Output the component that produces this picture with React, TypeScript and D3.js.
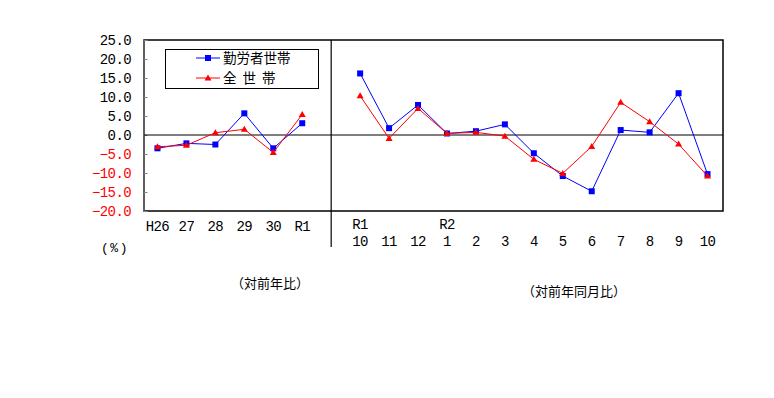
import React, { useEffect, useRef } from 'react';
import * as d3 from 'd3';

// annual (対前年比)
const annualLabels = ["H26", "27", "28", "29", "30", "R1"];
const workerAnnual = [-3.5, -2.2, -2.5, 5.7, -3.5, 3.1];
const allAnnual = [-3.1, -2.7, 0.6, 1.5, -4.6, 5.4];

// monthly (対前年同月比)
const monthEraLabels = ["R1", "", "", "R2", "", "", "", "", "", "", "", "", ""];
const monthLabels = ["10", "11", "12", "1", "2", "3", "4", "5", "6", "7", "8", "9", "10"];
const workerMonthly = [16.2, 1.8, 7.9, 0.4, 1.0, 2.8, -4.8, -10.8, -14.8, 1.3, 0.7, 11.0, -10.3];
const allMonthly = [10.3, -0.9, 7.0, 0.4, 0.7, -0.3, -6.4, -10.1, -3.0, 8.6, 3.5, -2.4, -10.8];

const yTicks = [-20, -15, -10, -5, 0, 5, 10, 15, 20, 25];
const seriesNames = ["勤労者世帯", "全  世  帯"];

export default function App() {
  const ref = useRef<SVGSVGElement>(null);

  useEffect(() => {
    const width = 774;
    const height = 398;
    const left = 144, right = 723, top = 40, bottom = 211;
    const monoFont = "'Liberation Mono', 'DejaVu Sans Mono', monospace";
    const jpFont = "'Noto Sans CJK JP', sans-serif";

    const svg = d3.select(ref.current);
    svg.selectAll('*').remove();
    svg.attr("width", width).attr("height", height);

    // 6 annual slots, one empty slot for the divider, 13 monthly slots
    const keys = [
      ...annualLabels.map((d, i) => "a" + i),
      "gap",
      ...monthLabels.map((d, i) => "m" + i),
    ];
    const x = d3.scaleBand<string>().domain(keys).range([left - 1, right - 1]).padding(0);
    const cx = (k: string) => (x(k) as number) + x.bandwidth() / 2;

    const y = d3.scaleLinear().domain([-20, 25]).range([bottom, top]);

    // frame
    svg.append("rect")
      .attr("x", left).attr("y", top)
      .attr("width", right - left).attr("height", bottom - top)
      .attr("fill", "none").attr("stroke", "black").attr("stroke-width", 1.5);

    // left axis, gray with inward ticks
    svg.append("g")
      .attr("transform", `translate(${left - 0.5},0)`)
      .call(d3.axisRight(y).tickValues(yTicks).tickSize(4).tickFormat(() => ""))
      .call(g => g.selectAll("line,path").attr("stroke", "#808080"));

    // y labels
    svg.append("g").selectAll("text").data(yTicks).join("text")
      .attr("x", 131)
      .attr("y", d => y(d))
      .attr("dy", "0.36em")
      .attr("text-anchor", "end")
      .attr("font-family", monoFont)
      .attr("font-size", 14)
      .attr("letter-spacing", -0.6)
      .attr("fill", d => d < 0 ? "#ff0000" : "black")
      .text(d => d3.format(".1f")(d));

    // zero line
    svg.append("line")
      .attr("x1", left).attr("x2", right)
      .attr("y1", y(0)).attr("y2", y(0))
      .attr("stroke", "black").attr("stroke-width", 1.2);

    // divider between the two parts
    svg.append("line")
      .attr("x1", cx("gap")).attr("x2", cx("gap"))
      .attr("y1", top).attr("y2", 247)
      .attr("stroke", "black").attr("stroke-width", 1.2);

    // x labels
    const xl = svg.append("g")
      .attr("font-family", monoFont)
      .attr("font-size", 14)
      .attr("letter-spacing", -0.6)
      .attr("text-anchor", "middle");
    annualLabels.forEach((t, i) => {
      xl.append("text").attr("x", cx("a" + i)).attr("y", 231).text(t);
    });
    monthEraLabels.forEach((t, i) => {
      if (t) xl.append("text").attr("x", cx("m" + i)).attr("y", 229).text(t);
    });
    monthLabels.forEach((t, i) => {
      xl.append("text").attr("x", cx("m" + i)).attr("y", 245.5).text(t);
    });

    svg.append("text")
      .attr("x", 115).attr("y", 252)
      .attr("text-anchor", "middle")
      .attr("font-family", monoFont)
      .attr("font-size", 13)
      .attr("letter-spacing", 1.5)
      .text("(%)");

    svg.append("text")
      .attr("x", 270).attr("y", 288)
      .attr("text-anchor", "middle")
      .attr("font-family", jpFont)
      .attr("font-size", 13)
      .text("（対前年比）");

    svg.append("text")
      .attr("x", 574).attr("y", 296)
      .attr("text-anchor", "middle")
      .attr("font-family", jpFont)
      .attr("font-size", 13)
      .text("（対前年同月比）");

    const line = d3.line<[number, number]>().x(d => d[0]).y(d => d[1]);
    const series = [
      { color: "#0000ff", marker: "square", parts: [
        workerAnnual.map((v, i) => [cx("a" + i), y(v)] as [number, number]),
        workerMonthly.map((v, i) => [cx("m" + i), y(v)] as [number, number]),
      ] },
      { color: "#ff0000", marker: "triangle", parts: [
        allAnnual.map((v, i) => [cx("a" + i), y(v)] as [number, number]),
        allMonthly.map((v, i) => [cx("m" + i), y(v)] as [number, number]),
      ] },
    ];

    const drawMarker = (g: any, kind: string, color: string, px: number, py: number) => {
      if (kind === "square") {
        g.append("rect")
          .attr("x", px - 3).attr("y", py - 3)
          .attr("width", 6).attr("height", 6)
          .attr("fill", color);
      } else {
        g.append("path")
          .attr("d", `M${px},${py - 3.5}L${px + 3.5},${py + 2.5}L${px - 3.5},${py + 2.5}Z`)
          .attr("fill", color);
      }
    };

    series.forEach(s => {
      const g = svg.append("g");
      s.parts.forEach(pts => {
        g.append("path")
          .attr("d", line(pts))
          .attr("fill", "none")
          .attr("stroke", s.color)
          .attr("stroke-width", 1);
        pts.forEach(p => drawMarker(g, s.marker, s.color, p[0], p[1]));
      });
    });

    // legend
    const lg = svg.append("g");
    lg.append("rect")
      .attr("x", 165.5).attr("y", 49.5)
      .attr("width", 153).attr("height", 39)
      .attr("fill", "white").attr("stroke", "black").attr("stroke-width", 1);
    series.forEach((s, i) => {
      const ly = 58 + i * 20;
      lg.append("line")
        .attr("x1", 196).attr("x2", 220)
        .attr("y1", ly).attr("y2", ly)
        .attr("stroke", s.color);
      drawMarker(lg, s.marker, s.color, 208, ly);
      lg.append("text")
        .attr("x", 223).attr("y", ly)
        .attr("dy", "0.36em")
        .attr("font-family", jpFont)
        .attr("font-size", 13.5)
        .attr("xml:space", "preserve")
        .text(seriesNames[i]);
    });
  }, []);

  return (
    <svg ref={ref} style={{ position: "absolute", left: 0, top: 0, background: "white" }}></svg>
  );
}
